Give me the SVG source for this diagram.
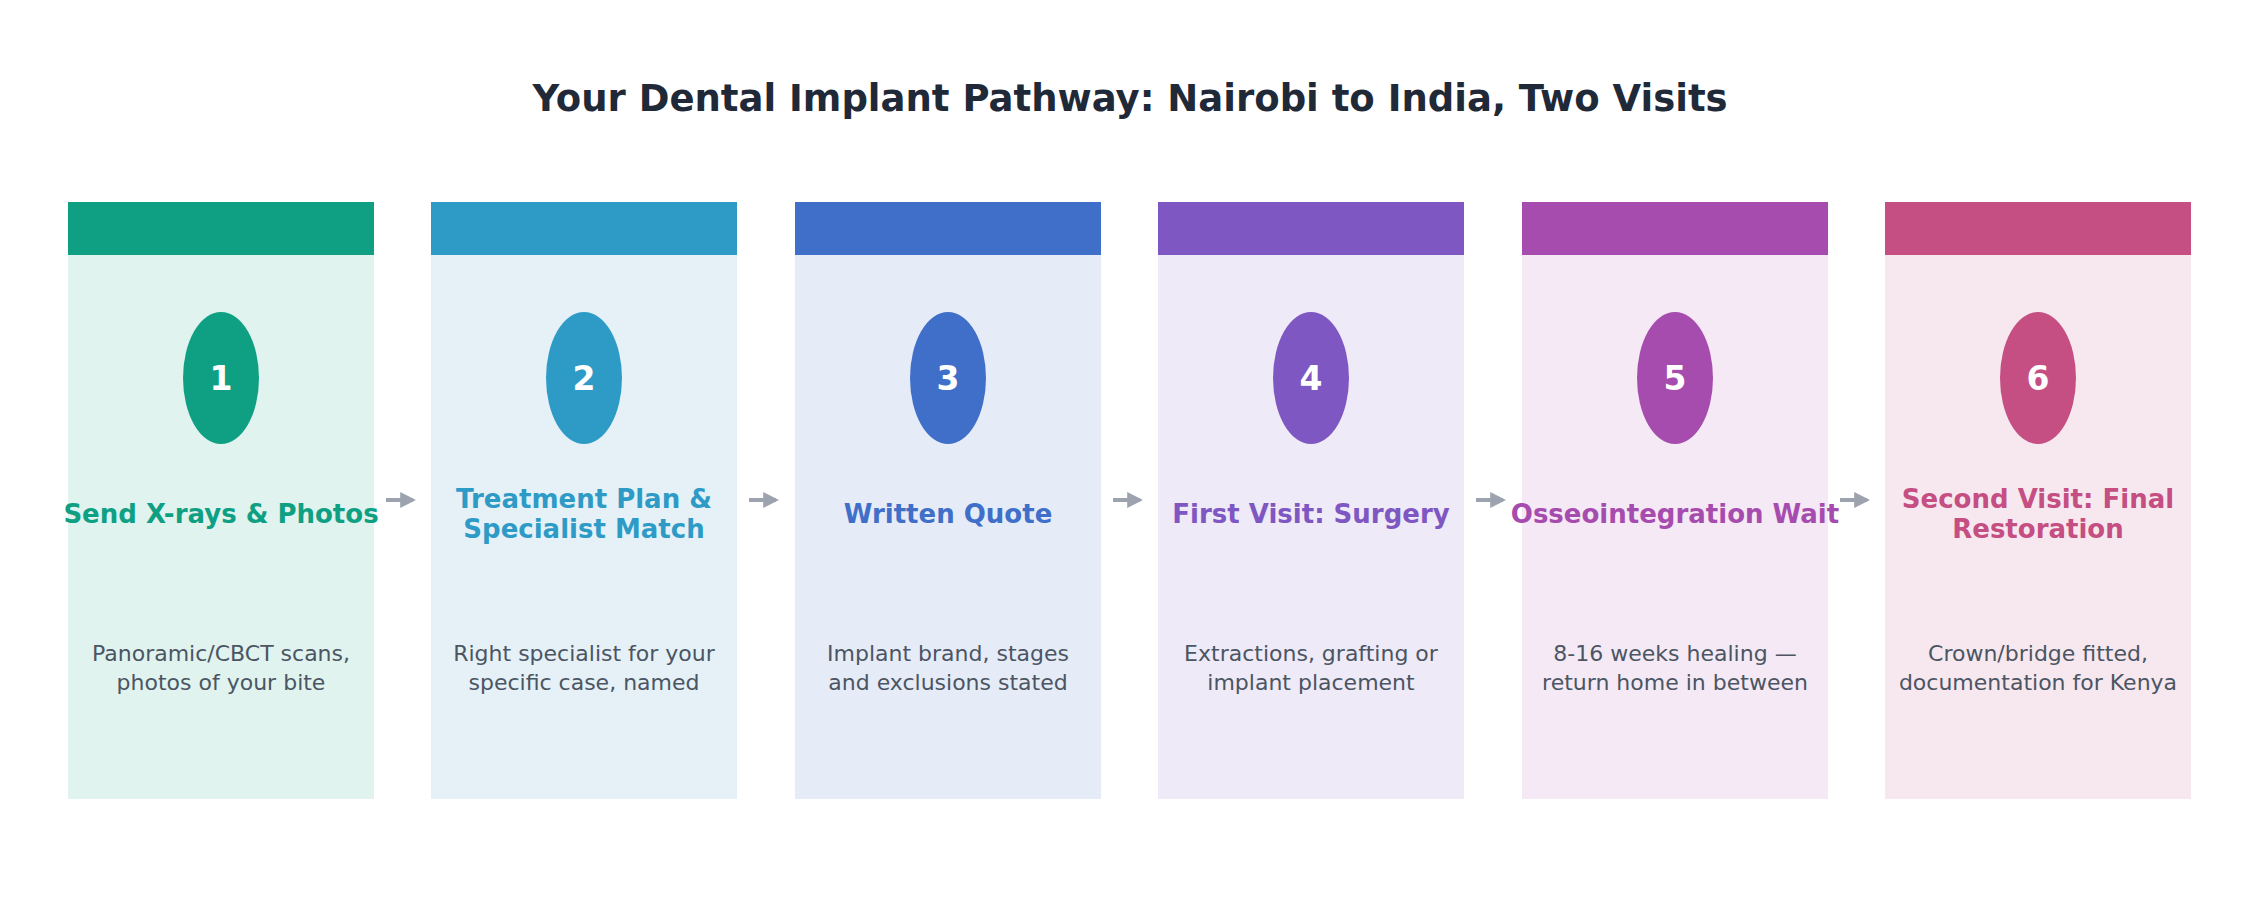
<svg xmlns="http://www.w3.org/2000/svg" width="2260" height="919" viewBox="0 0 2260 919">
<style>
text{font-family:"DejaVu Sans","Noto Sans",sans-serif;text-anchor:middle}
.h{font-size:37px;font-weight:bold;fill:#1f2937}
.n{font-size:33px;font-weight:bold;fill:#fff}
.t{font-size:26px;font-weight:bold}
.d{font-size:22px;fill:#4b5563}
.a{stroke:#9ca3af;stroke-width:4;fill:none}
</style>
<defs><marker id="ah" markerWidth="8" markerHeight="8" refX="5" refY="4" orient="auto" markerUnits="userSpaceOnUse"><path d="M0,0 L8,4 L0,8 Z" fill="#9ca3af"/></marker>
<marker id="m" viewBox="0 0 10 10" refX="8" refY="5" markerWidth="4" markerHeight="4" orient="auto"><path d="M0,0 L10,5 L0,10 Z" fill="#9ca3af"/></marker></defs>
<rect width="2260" height="919" fill="#fff"/>
<text class="h" x="1130" y="111">Your Dental Implant Pathway: Nairobi to India, Two Visits</text>
<g id="node1"><rect x="68" y="202" width="306" height="597" fill="#e0f3ef"/><rect x="68" y="202" width="306" height="53" fill="#0fa084"/><ellipse cx="221" cy="378" rx="38" ry="66" fill="#0fa084"/><text class="n" x="221" y="390">1</text><text class="t" x="221" y="523" fill="#0fa084">Send X-rays &amp; Photos</text><text class="d" x="221" y="661">Panoramic/CBCT scans,</text><text class="d" x="221" y="690">photos of your bite</text></g>
<g id="node2"><rect x="431" y="202" width="306" height="597" fill="#e5f1f7"/><rect x="431" y="202" width="306" height="53" fill="#2e9bc6"/><ellipse cx="584" cy="378" rx="38" ry="66" fill="#2e9bc6"/><text class="n" x="584" y="390">2</text><text class="t" x="584" y="508" fill="#2e9bc6">Treatment Plan &amp;</text><text class="t" x="584" y="538" fill="#2e9bc6">Specialist Match</text><text class="d" x="584" y="661">Right specialist for your</text><text class="d" x="584" y="690">specific case, named</text></g>
<g id="node3"><rect x="795" y="202" width="306" height="597" fill="#e6ecf7"/><rect x="795" y="202" width="306" height="53" fill="#3f6fc8"/><ellipse cx="948" cy="378" rx="38" ry="66" fill="#3f6fc8"/><text class="n" x="948" y="390">3</text><text class="t" x="948" y="523" fill="#3f6fc8">Written Quote</text><text class="d" x="948" y="661">Implant brand, stages</text><text class="d" x="948" y="690">and exclusions stated</text></g>
<g id="node4"><rect x="1158" y="202" width="306" height="597" fill="#eeeaf7"/><rect x="1158" y="202" width="306" height="53" fill="#7e57c2"/><ellipse cx="1311" cy="378" rx="38" ry="66" fill="#7e57c2"/><text class="n" x="1311" y="390">4</text><text class="t" x="1311" y="523" fill="#7e57c2">First Visit: Surgery</text><text class="d" x="1311" y="661">Extractions, grafting or</text><text class="d" x="1311" y="690">implant placement</text></g>
<g id="node5"><rect x="1522" y="202" width="306" height="597" fill="#f4e9f5"/><rect x="1522" y="202" width="306" height="53" fill="#a64cae"/><ellipse cx="1675" cy="378" rx="38" ry="66" fill="#a64cae"/><text class="n" x="1675" y="390">5</text><text class="t" x="1675" y="523" fill="#a64cae">Osseointegration Wait</text><text class="d" x="1675" y="661">8-16 weeks healing —</text><text class="d" x="1675" y="690">return home in between</text></g>
<g id="node6"><rect x="1885" y="202" width="306" height="597" fill="#f7e8ef"/><rect x="1885" y="202" width="306" height="53" fill="#c54e82"/><ellipse cx="2038" cy="378" rx="38" ry="66" fill="#c54e82"/><text class="n" x="2038" y="390">6</text><text class="t" x="2038" y="508" fill="#c54e82">Second Visit: Final</text><text class="t" x="2038" y="538" fill="#c54e82">Restoration</text><text class="d" x="2038" y="661">Crown/bridge fitted,</text><text class="d" x="2038" y="690">documentation for Kenya</text></g>
<g id="connectors">
<line class="a" x1="386" y1="500" x2="413" y2="500" marker-end="url(#m)"/>
<line class="a" x1="749" y1="500" x2="776" y2="500" marker-end="url(#m)"/>
<line class="a" x1="1113" y1="500" x2="1140" y2="500" marker-end="url(#m)"/>
<line class="a" x1="1476" y1="500" x2="1503" y2="500" marker-end="url(#m)"/>
<line class="a" x1="1840" y1="500" x2="1867" y2="500" marker-end="url(#m)"/>
</g>
</svg>
